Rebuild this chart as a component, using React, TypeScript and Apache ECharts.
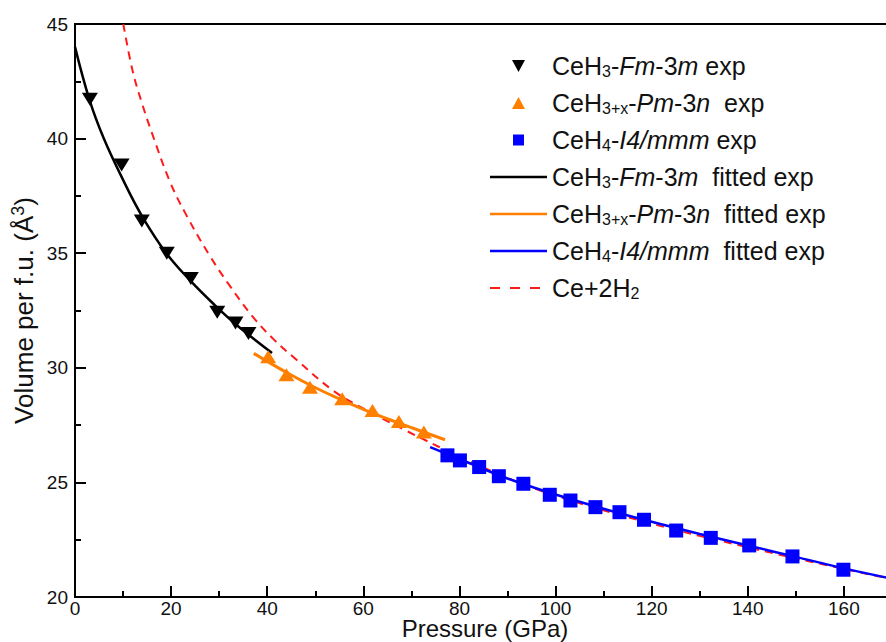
import React, { useEffect, useRef } from "react";
import * as echarts from "echarts";

// ---- data ----
const fcc_P = [3.1, 9.7, 13.9, 19.1, 24.1, 29.6, 33.4, 36.1];
const fcc_V = [41.72, 38.85, 36.4, 35.0, 33.9, 32.42, 31.95, 31.5];

const pm3n_P = [40.2, 44.0, 48.9, 55.6, 61.9, 67.4, 72.6];
const pm3n_V = [30.48, 29.7, 29.15, 28.65, 28.14, 27.66, 27.2];

const i4_P = [77.5, 80.1, 84.1, 88.2, 93.3, 98.8, 103.1, 108.3, 113.3, 118.4, 125.1, 132.3, 140.3, 149.3, 159.9];
const i4_V = [26.18, 25.96, 25.67, 25.27, 24.94, 24.46, 24.21, 23.92, 23.7, 23.37, 22.9, 22.58, 22.25, 21.77, 21.19];

const fccFit_P = [0, 3, 6, 10, 14, 19, 24, 29, 34, 41];
const fccFit_V = [44.0, 41.7, 40.0, 38.2, 36.6, 35.0, 33.8, 32.75, 31.8, 30.65];

const pm3nFit_P = [37.2, 40, 44, 49, 55, 61, 67, 72.5, 77];
const pm3nFit_V = [30.63, 30.28, 29.8, 29.24, 28.64, 28.1, 27.62, 27.2, 26.86];

const i4Fit_P = [73.9, 80, 90, 100, 110, 120, 130, 140, 150, 160, 170];
const i4Fit_V = [26.54, 26.02, 25.17, 24.47, 23.85, 23.28, 22.75, 22.25, 21.75, 21.25, 20.8];

const ceh2_P = [10.05, 12, 14, 16, 19.8, 23.2, 28.1, 32.3, 37.1, 41.3, 46.1, 54.1, 60.7, 68.3, 80.1, 90, 100, 120, 140, 160, 170];
const ceh2_V = [45, 42.95, 41.5, 40.25, 38.1, 36.65, 34.87, 33.55, 32.2, 31.25, 30.35, 28.95, 28.15, 27.32, 26.12, 25.2, 24.42, 23.2, 22.17, 21.22, 20.78];

const xTitle = "Pressure (GPa)";
const yTitle = "Volume per f.u. (Å{sup|3})";

const seriesNames = [
  "CeH3-Fm-3m exp",
  "CeH3+x-Pm-3n exp",
  "CeH4-I4/mmm exp",
  "CeH3-Fm-3m fitted exp",
  "CeH3+x-Pm-3n fitted exp",
  "CeH4-I4/mmm fitted exp",
  "Ce+2H2",
];
const legendRich: Record<string, string> = {
  "CeH3-Fm-3m exp": "CeH{s|3}-{i|Fm}-3{i|m} exp",
  "CeH3+x-Pm-3n exp": "CeH{s|3+x}-{i|Pm}-3{i|n}  exp",
  "CeH4-I4/mmm exp": "CeH{s|4}-{i|I4/mmm} exp",
  "CeH3-Fm-3m fitted exp": "CeH{s|3}-{i|Fm}-3{i|m}  fitted exp",
  "CeH3+x-Pm-3n fitted exp": "CeH{s|3+x}-{i|Pm}-3{i|n}  fitted exp",
  "CeH4-I4/mmm fitted exp": "CeH{s|4}-{i|I4/mmm}  fitted exp",
  "Ce+2H2": "Ce+2H{s|2}",
};
// legend icons: bounding box fixed to 57x13 by the two leading moveTo points
const BOX = "path://M0 0M57 13";
const legendIcons: Record<string, string> = {
  "CeH3-Fm-3m exp": BOX + "M22 0.5H35L28.5 12.5Z",
  "CeH3+x-Pm-3n exp": BOX + "M28.5 0.5L35 12.5H22Z",
  "CeH4-I4/mmm exp": BOX + "M23 1H34V12H23Z",
  "CeH3-Fm-3m fitted exp": BOX + "M0 5.25H57V7.75H0Z",
  "CeH3+x-Pm-3n fitted exp": BOX + "M0 5.25H57V7.75H0Z",
  "CeH4-I4/mmm fitted exp": BOX + "M0 5.25H57V7.75H0Z",
  "Ce+2H2": BOX + "M0 5.5H10V7.5H0ZM20 5.5H30V7.5H20ZM40 5.5H50V7.5H40Z",
};

const zip = (a: number[], b: number[]) => a.map((v, i) => [v, b[i]]);

const FONT = "Liberation Sans, Arial, sans-serif";
const TXT = "#111";

export default function App() {
  const ref = useRef<HTMLDivElement>(null);
  useEffect(() => {
    document.body.style.margin = "0";
    document.body.style.overflow = "hidden";
    document.documentElement.style.overflow = "hidden";
    const chart = echarts.init(ref.current!, null, { renderer: "svg" });
    const axisCommon = {
      axisLine: { show: true, onZero: false, lineStyle: { color: "#000", width: 2 } },
      axisTick: { show: true, inside: true, length: 11, lineStyle: { color: "#000", width: 2 } },
      minorTick: { show: true, splitNumber: 2, length: 6, lineStyle: { color: "#000", width: 2 } },
      splitLine: { show: false },
      minorSplitLine: { show: false },
    };
    chart.setOption({
      animation: false,
      backgroundColor: "#fff",
      grid: {
        left: 75,
        top: 24,
        right: 0,
        bottom: 45,
        containLabel: false,
        outerBoundsMode: "none",
        show: true,
        borderColor: "#000",
        borderWidth: 2,
        backgroundColor: "transparent",
      },
      xAxis: {
        type: "value",
        min: 0,
        max: 180,
        interval: 20,
        ...axisCommon,
        axisLabel: {
          color: TXT,
          fontSize: 19,
          lineHeight: 17,
          fontFamily: FONT,
          margin: 3,
          showMaxLabel: false,
        },
        name: xTitle,
        nameLocation: "middle",
        nameGap: 20,
        nameMoveOverlap: false,
        nameTextStyle: {
          color: TXT,
          fontSize: 24,
          lineHeight: 22,
          fontFamily: FONT,
          verticalAlign: "top",
          padding: [0, 45, 0, 0],
        },
      },
      yAxis: {
        type: "value",
        min: 20,
        max: 45,
        interval: 5,
        ...axisCommon,
        axisLabel: { color: TXT, fontSize: 19, fontFamily: FONT, margin: 7 },
        name: yTitle,
        nameLocation: "middle",
        nameGap: 36,
        nameMoveOverlap: false,
        nameTextStyle: {
          color: TXT,
          fontSize: 26,
          fontFamily: FONT,
          lineHeight: 30,
          rich: {
            sup: { fontSize: 18, fontFamily: FONT, color: TXT, verticalAlign: "top", lineHeight: 17 },
          },
        },
      },
      legend: {
        orient: "vertical",
        left: 485,
        top: 48,
        itemWidth: 57,
        itemHeight: 13,
        itemGap: 11,
        itemStyle: { borderWidth: 0 },
        data: seriesNames.map((n) => ({ name: n, icon: legendIcons[n] })),
        formatter: (name: string) => legendRich[name] || name,
        textStyle: {
          color: TXT,
          fontSize: 25,
          fontFamily: FONT,
          lineHeight: 26,
          rich: {
            i: { fontStyle: "italic", fontSize: 25, fontFamily: FONT, color: TXT, lineHeight: 26 },
            s: { fontSize: 16, fontFamily: FONT, color: TXT, lineHeight: 15, verticalAlign: "bottom" },
          },
        },
      },
      series: [
        {
          name: "Ce+2H2",
          type: "line",
          data: zip(ceh2_P, ceh2_V),
          showSymbol: false,
          symbol: "none",
          smooth: 0.4,
          lineStyle: { color: "#ff1a1a", width: 2, type: [8, 6] },
          itemStyle: { color: "#ff1a1a" },
          z: 1,
        },
        {
          name: "CeH3-Fm-3m fitted exp",
          type: "line",
          data: zip(fccFit_P, fccFit_V),
          showSymbol: false,
          symbol: "none",
          smooth: 0.4,
          lineStyle: { color: "#000", width: 2.5 },
          itemStyle: { color: "#000" },
          z: 2,
        },
        {
          name: "CeH3+x-Pm-3n fitted exp",
          type: "line",
          data: zip(pm3nFit_P, pm3nFit_V),
          showSymbol: false,
          symbol: "none",
          smooth: 0.4,
          lineStyle: { color: "#ff8000", width: 3 },
          itemStyle: { color: "#ff8000" },
          z: 2,
        },
        {
          name: "CeH4-I4/mmm fitted exp",
          type: "line",
          data: zip(i4Fit_P, i4Fit_V),
          showSymbol: false,
          symbol: "none",
          smooth: 0.4,
          lineStyle: { color: "#0000ff", width: 2.5 },
          itemStyle: { color: "#0000ff" },
          z: 2,
        },
        {
          name: "CeH3-Fm-3m exp",
          type: "scatter",
          data: zip(fcc_P, fcc_V),
          symbol: "triangle",
          symbolRotate: 180,
          symbolSize: [16, 13],
          itemStyle: { color: "#000", opacity: 1 },
          z: 3,
        },
        {
          name: "CeH3+x-Pm-3n exp",
          type: "scatter",
          data: zip(pm3n_P, pm3n_V),
          symbol: "triangle",
          symbolSize: [16, 13],
          itemStyle: { color: "#ff8000", opacity: 1 },
          z: 3,
        },
        {
          name: "CeH4-I4/mmm exp",
          type: "scatter",
          data: zip(i4_P, i4_V),
          symbol: "rect",
          symbolSize: 14,
          itemStyle: { color: "#0000ff", opacity: 1 },
          z: 3,
        },
      ],
    });
    return () => chart.dispose();
  }, []);
  return (
    <div
      ref={ref}
      style={{ position: "absolute", left: 0, top: 0, width: 940, height: 642 }}
    />
  );
}
